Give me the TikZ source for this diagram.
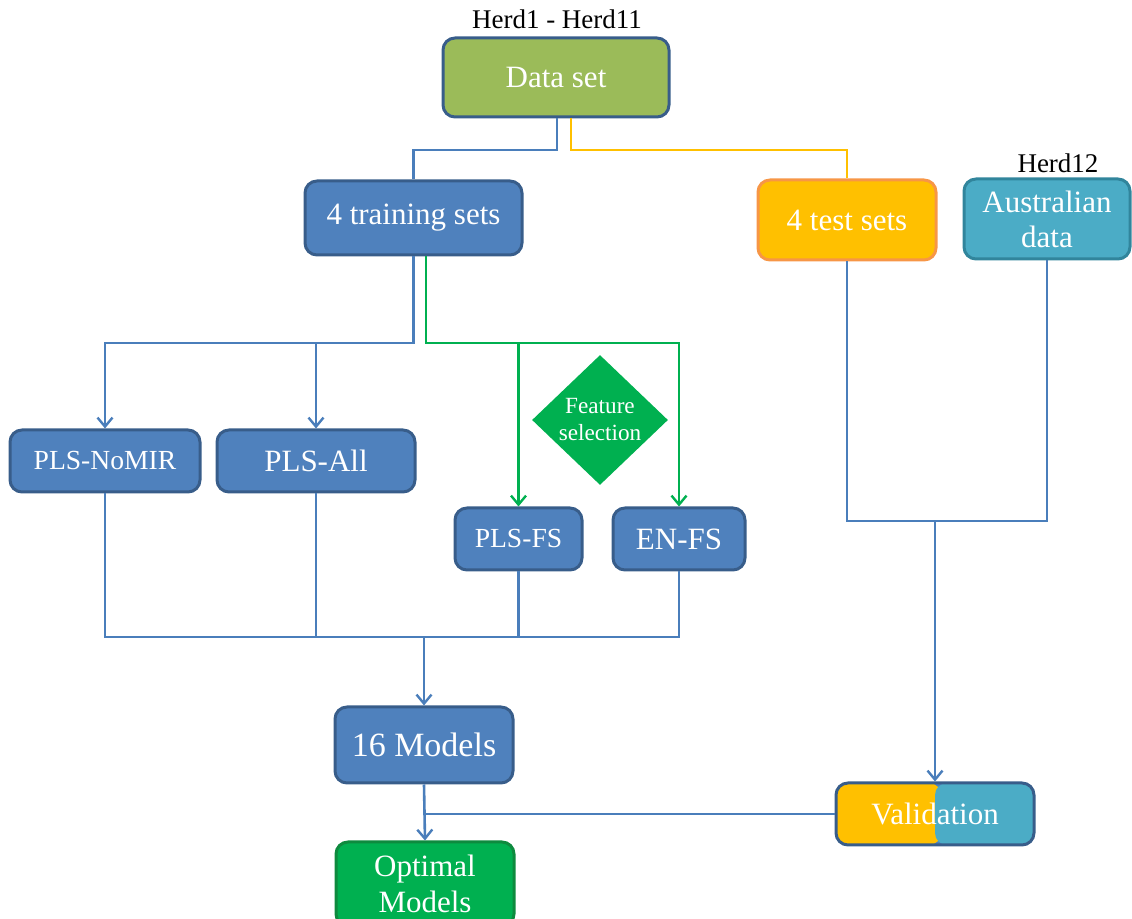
\documentclass[tikz,border=0pt]{standalone}
\usepackage{fontspec}
\setmainfont{Liberation Serif}
\usepackage{tikz}
\usetikzlibrary{arrows.meta, positioning, shapes.geometric}
\definecolor{boxblue}{HTML}{4F81BD}
\definecolor{edgeblue}{HTML}{385D8A}
\definecolor{linkblue}{HTML}{4A7EBB}
\definecolor{datagreen}{HTML}{9BBB59}
\definecolor{fsgreen}{HTML}{00B050}
\definecolor{optedge}{HTML}{0E8A3E}
\definecolor{testyellow}{HTML}{FFC000}
\definecolor{testedge}{HTML}{F79646}
\definecolor{austeal}{HTML}{4BACC6}
\definecolor{ausedge}{HTML}{31859C}

\begin{document}
\begin{tikzpicture}[
    x=0.5pt, y=-0.5pt,
    every node/.style={font=\fontsize{15.5}{17}\selectfont},
    stage/.style={rectangle, rounded corners=6pt, draw=edgeblue, line width=1.5pt, fill=boxblue, text=white, align=center, inner sep=1pt},
    smallstage/.style={stage, font=\fontsize{13.8}{15}\selectfont},
    herdlabel/.style={font=\fontsize{13.5}{15}\selectfont, text=black},
    bline/.style={draw=linkblue, line width=1.3pt},
    gline/.style={draw=fsgreen, line width=1.3pt},
    yline/.style={draw=testyellow, line width=1.3pt},
    tip/.style={-{Straight Barb[length=4.5pt, width=7.5pt, line width=1.2pt]}},
]
\useasboundingbox (0,0) rectangle (1132,919);
% sources
\node[stage, fill=datagreen, minimum width=113pt, minimum height=39.5pt] (dataset) at (556,77.5) {Data set};
\node[herdlabel] (herdA) at (557,19) {Herd1 - Herd11};
\node[stage, minimum width=108.5pt, minimum height=37pt] (train) at (413.5,218) {4 training sets};
\node[stage, draw=testedge, fill=testyellow, minimum width=89pt, minimum height=40pt] (test) at (847,220) {4 test sets};
\node[stage, draw=ausedge, fill=austeal, minimum width=83pt, minimum height=40pt, font=\fontsize{15.5}{17.5}\selectfont] (aus) at (1047,219) {Australian\\data};
\node[herdlabel] (herdB) at (1058,163) {Herd12};
% models
\node[smallstage, minimum width=95pt, minimum height=31pt] (nomir) at (105,461) {PLS-NoMIR};
\node[stage, minimum width=99pt, minimum height=31pt] (plsall) at (316,461) {PLS-All};
\node[diamond, fill=fsgreen, text=white, align=center, inner sep=0pt, aspect=1.05, minimum width=68pt, minimum height=65pt, font=\fontsize{11.6}{13.5}\selectfont] (fsel) at (600,420) {Feature\\selection};
\node[smallstage, minimum width=63.5pt, minimum height=31pt] (plsfs) at (518.5,539) {PLS-FS};
\node[stage, minimum width=66pt, minimum height=31pt] (enfs) at (679,539) {EN-FS};
\node[stage, minimum width=89pt, minimum height=38pt, font=\fontsize{17}{19}\selectfont] (models) at (424,745) {16 Models};
\node[stage, draw=optedge, fill=fsgreen, minimum width=89pt, minimum height=42pt, font=\fontsize{15.5}{18}\selectfont] (optimal) at (425,884) {Optimal\\Models};
\node[stage, minimum width=99pt, minimum height=31pt,
    path picture={
        \fill[testyellow, rounded corners=6pt] (path picture bounding box.south west) rectangle ([xshift=3pt]path picture bounding box.north);
        \fill[austeal, rounded corners=6pt] ([xshift=0pt]path picture bounding box.north) rectangle (path picture bounding box.south east);
    }] (valid) at (935,814) {Validation};
% joints
\coordinate (topY) at (0,150);
\coordinate (splitY) at (0,343);
\coordinate (mergeY) at (0,637);
\coordinate (valY) at (0,521);
% connectors
\draw[bline] ([xshift=0.5pt]dataset.south) -- ([xshift=0.5pt]dataset.south |- topY) -| (train.north);
\draw[yline] ([xshift=7.5pt]dataset.south) -- ([xshift=7.5pt]dataset.south |- topY) -| (test.north);
\draw[bline, tip] (train.south) -- (train.south |- splitY) -| (nomir.north);
\draw[bline, tip] (plsall.north |- splitY) -- (plsall.north);
\draw[gline, tip] ([xshift=6.25pt]train.south) -- ([xshift=6.25pt]train.south |- splitY) -| (enfs.north);
\draw[gline, tip] (plsfs.north |- splitY) -- (plsfs.north);
\draw[bline] (nomir.south) |- (enfs.south |- mergeY) -- (enfs.south);
\draw[bline] (plsall.south) -- (plsall.south |- mergeY);
\draw[bline] (plsfs.south) -- (plsfs.south |- mergeY);
\draw[bline, tip] (models.north |- mergeY) -- (models.north);
\draw[bline] (test.south) |- (aus.south |- valY) -- (aus.south);
\draw[bline, tip] (valid.north |- valY) -- (valid.north);
\draw[bline, tip] (models.south) -- (optimal.north);
\draw[bline] (valid.west) -- (valid.west -| optimal.north);
\end{tikzpicture}
\end{document}
